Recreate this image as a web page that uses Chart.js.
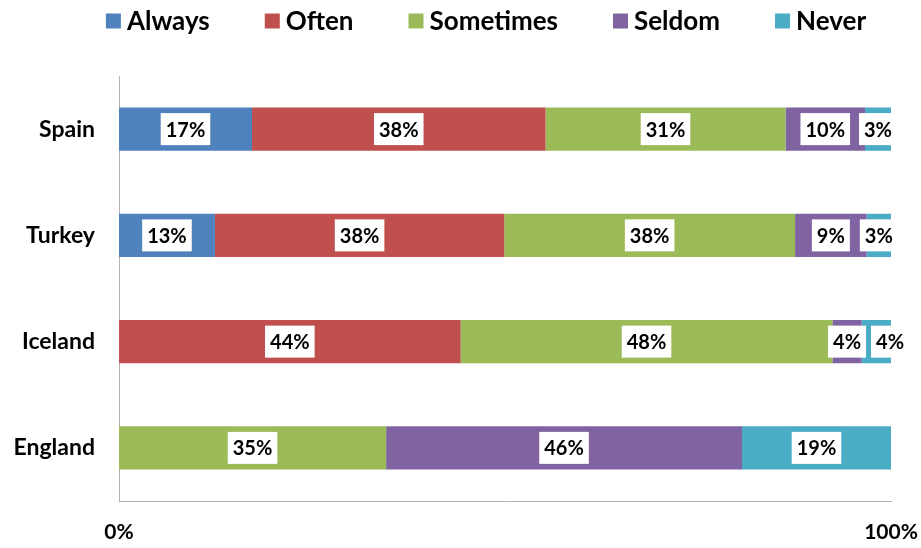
<!DOCTYPE html>
<html>
<head>
<meta charset="utf-8">
<script src="https://cdn.jsdelivr.net/npm/chart.js@4/dist/chart.umd.min.js"></script>
<style>
  html, body { margin: 0; padding: 0; background: #fff; }
  #wrap { width: 921px; height: 548px; }
</style>
</head>
<body>
<div id="wrap"><canvas id="chart"></canvas></div>
<script>
// answers per country, in percent
var countries = ["Spain", "Turkey", "Iceland", "England"];
var seriesNames = ["Always", "Often", "Sometimes", "Seldom", "Never"];
var always    = [17.4, 12.6, 0, 0];
var often     = [38.4, 38.0, 44.3, 0];
var sometimes = [31.4, 38.2, 48.2, 34.6];
var seldom    = [10.4, 9.4, 3.8, 46.1];
var never     = [3.4, 3.2, 3.8, 19.3];
var xTickLabels = ["0%", "100%"];

var colors = ["#4F81BD", "#C0504D", "#9BBB59", "#8064A2", "#4BACC6"];
var FONT = "Lato";

var raw = [always, often, sometimes, seldom, never];
// 100% stacked: every row is scaled to its own total
var totals = countries.map(function (c, i) {
  return raw.reduce(function (s, arr) { return s + arr[i]; }, 0);
});

var datasets = raw.map(function (arr, k) {
  return {
    label: seriesNames[k],
    data: arr.map(function (v, i) { return v / totals[i] * 100; }),
    rawValues: arr,
    backgroundColor: colors[k],
    borderWidth: 0,
    barPercentage: 0.405,
    categoryPercentage: 1
  };
});

// white boxed value labels, pushed right when they would overlap
var valueLabels = {
  id: "valueLabels",
  afterDatasetsDraw: function (chart) {
    var ctx = chart.ctx;
    ctx.save();
    ctx.font = "bold 20px " + FONT;
    ctx.textAlign = "center";
    ctx.textBaseline = "middle";
    for (var i = 0; i < countries.length; i++) {
      var prevRight = -Infinity;
      chart.data.datasets.forEach(function (ds, k) {
        var v = ds.rawValues[i];
        if (!v) return;
        var bar = chart.getDatasetMeta(k).data[i];
        var txt = Math.round(v) + "%";
        var w = ctx.measureText(txt).width + 10;
        var h = 32;
        var cx = (bar.x + bar.base) / 2;
        var left = cx - w / 2;
        if (left < prevRight + 5) left = prevRight + 5;
        ctx.fillStyle = "#ffffff";
        ctx.fillRect(left, bar.y - h / 2, w, h);
        ctx.fillStyle = "#000000";
        ctx.fillText(txt, left + w / 2, bar.y + 1);
        prevRight = left + w;
      });
    }
    ctx.restore();
  }
};

// legend row across the top
var topLegend = {
  id: "topLegend",
  afterDraw: function (chart) {
    var ctx = chart.ctx;
    var box = 15, gapText = 6, gapItem = 55, centerX = 486, y = 21;
    ctx.save();
    ctx.font = "bold 26px " + FONT;
    ctx.textBaseline = "middle";
    var items = chart.data.datasets.map(function (ds) {
      return { text: ds.label, color: ds.backgroundColor, w: ctx.measureText(ds.label).width };
    });
    var total = items.reduce(function (s, it) { return s + box + gapText + it.w; }, 0) + gapItem * (items.length - 1);
    var x = centerX - total / 2;
    items.forEach(function (it) {
      ctx.fillStyle = it.color;
      ctx.fillRect(x, y - box / 2, box, box);
      ctx.fillStyle = "#000000";
      ctx.fillText(it.text, x + box + gapText, y + 1);
      x += box + gapText + it.w + gapItem;
    });
    ctx.restore();
  }
};

new Chart(document.getElementById("chart"), {
  type: "bar",
  data: { labels: countries, datasets: datasets },
  plugins: [valueLabels, topLegend],
  options: {
    indexAxis: "y",
    responsive: true,
    maintainAspectRatio: false,
    animation: false,
    layout: { padding: { top: 76, right: 30, left: 0, bottom: 0 } },
    plugins: {
      legend: { display: false },
      tooltip: { enabled: false }
    },
    scales: {
      x: {
        stacked: true,
        min: 0,
        max: 100,
        grid: { display: false, drawTicks: false },
        border: { display: true, color: "#b3b3b3", width: 1 },
        ticks: {
          stepSize: 100,
          padding: 19,
          maxRotation: 0,
          color: "#000",
          font: { family: FONT, size: 21, weight: "bold" },
          callback: function (v) { return v === 0 ? xTickLabels[0] : (v === 100 ? xTickLabels[1] : ""); }
        },
        afterFit: function (s) { s.height = 47; s.paddingLeft = 0; s.paddingRight = 0; }
      },
      y: {
        stacked: true,
        grid: { display: false, drawTicks: false },
        border: { display: true, color: "#b3b3b3", width: 1 },
        ticks: {
          padding: 24,
          color: "#000",
          font: { family: FONT, size: 23, weight: "bold" }
        },
        afterFit: function (s) { s.width = 119; s.paddingTop = 0; s.paddingBottom = 0; }
      }
    }
  }
});
</script>
</body>
</html>
